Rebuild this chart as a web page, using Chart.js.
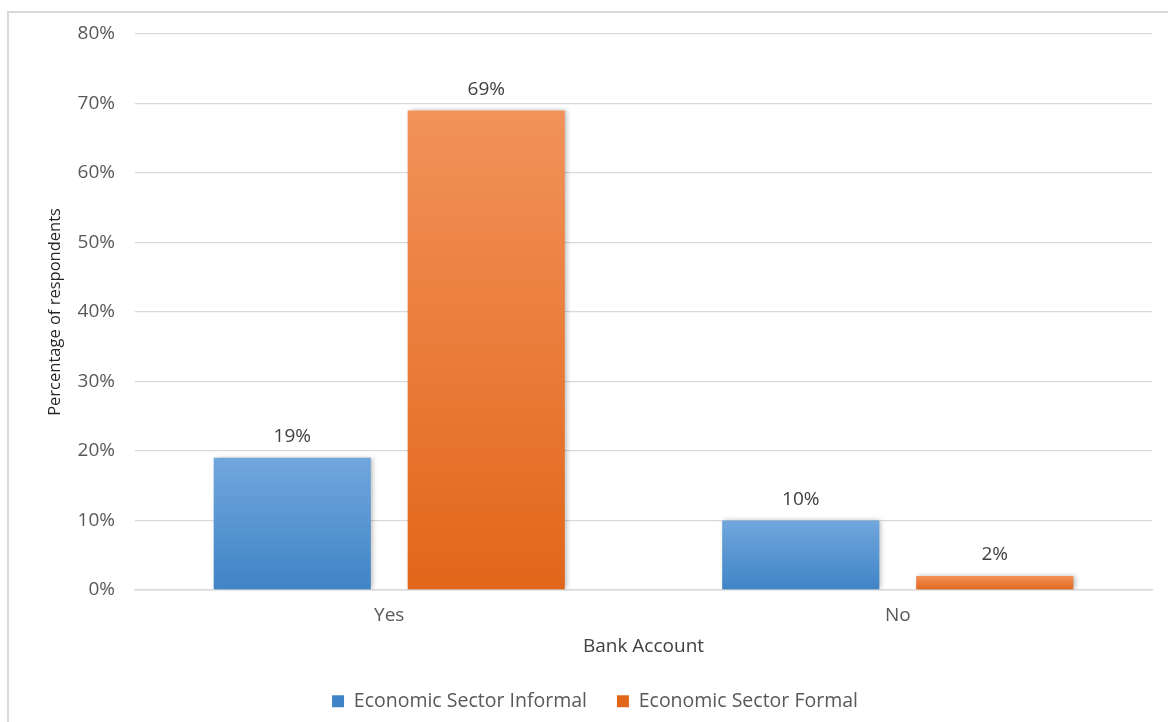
<!DOCTYPE html>
<html lang="en">

<head>
    <meta charset="UTF-8">
    <title>Bank Account by Economic Sector</title>
    <style>
        * {
            margin: 0;
            padding: 0;
            box-sizing: border-box;
        }

        body {
            width: 1168px;
            height: 722px;
            background: #ffffff;
            overflow: hidden;
            position: relative;
        }

        /* frame around the chart, right and bottom edges run off the page */
        .frame {
            position: absolute;
            left: 7px;
            top: 11px;
            width: 1200px;
            height: 760px;
            border: 2px solid #d9d9d9;
        }

        #chart {
            position: absolute;
            left: 0;
            top: 0;
        }
    </style>
</head>

<body>
    <div class="frame"></div>
    <canvas id="chart" width="1168" height="722"></canvas>

    <script src="https://cdn.jsdelivr.net/npm/chart.js"></script>
    <script>
        const categories = ['Yes', 'No'];
        const informal = [19, 10];
        const formal = [69, 2];
        const yTicks = [0, 10, 20, 30, 40, 50, 60, 70, 80];

        const FONT = '"Open Sans", "DejaVu Sans", sans-serif';

        // vertical gradient per bar, lighter at the top
        function barFill(topColor, bottomColor, flat) {
            return function (ctx) {
                const chart = ctx.chart;
                if (ctx.type !== 'data' || !chart.chartArea) return flat;
                const y = chart.scales.y;
                const yTop = y.getPixelForValue(ctx.parsed.y);
                const yBase = y.getPixelForValue(0);
                if (!isFinite(yTop) || yTop === yBase) return flat;
                const g = chart.ctx.createLinearGradient(0, yTop, 0, yBase);
                g.addColorStop(0, topColor);
                g.addColorStop(1, bottomColor);
                return g;
            };
        }

        // soft shadow under the bars
        const barShadow = {
            id: 'barShadow',
            beforeDatasetDraw(chart) {
                const c = chart.ctx;
                c.save();
                c.shadowColor = 'rgba(0,0,0,0.28)';
                c.shadowBlur = 5;
                c.shadowOffsetX = 2;
                c.shadowOffsetY = 0;
            },
            afterDatasetDraw(chart) {
                chart.ctx.restore();
            }
        };

        // value labels above each bar
        const valueLabels = {
            id: 'valueLabels',
            afterDatasetsDraw(chart) {
                const c = chart.ctx;
                c.save();
                c.font = '19px ' + FONT;
                c.fillStyle = '#404040';
                c.textAlign = 'center';
                c.textBaseline = 'middle';
                chart.data.datasets.forEach((ds, i) => {
                    chart.getDatasetMeta(i).data.forEach((bar, j) => {
                        c.fillText(ds.data[j] + '%', bar.x, bar.y - 21);
                    });
                });
                c.restore();
            }
        };

        new Chart(document.getElementById('chart'), {
            type: 'bar',
            data: {
                labels: categories,
                datasets: [
                    {
                        label: 'Economic Sector Informal',
                        data: informal,
                        backgroundColor: barFill('#71a7dd', '#3f84c6', '#5b9bd5')
                    },
                    {
                        label: 'Economic Sector Formal',
                        data: formal,
                        backgroundColor: barFill('#f29259', '#e2661a', '#ed7d31')
                    }
                ]
            },
            options: {
                responsive: false,
                animation: false,
                categoryPercentage: 0.763,
                barPercentage: 0.81,
                layout: {
                    padding: { left: 38, right: 16, top: 34, bottom: 1 }
                },
                scales: {
                    x: {
                        grid: { display: false, drawTicks: false },
                        border: { color: '#d9d9d9', width: 1.5 },
                        ticks: {
                            color: '#595959',
                            font: { family: FONT, size: 19 },
                            padding: 14
                        },
                        title: {
                            display: true,
                            text: 'Bank Account',
                            color: '#404040',
                            font: { family: FONT, size: 19 },
                            padding: { top: -6, bottom: 4 }
                        }
                    },
                    y: {
                        min: 0,
                        max: 80,
                        afterBuildTicks(axis) {
                            axis.ticks = yTicks.map(v => ({ value: v }));
                        },
                        afterFit(axis) {
                            axis.width = 97;
                        },
                        grid: { color: '#d9d9d9', lineWidth: 1.2, drawTicks: false },
                        border: { display: false },
                        ticks: {
                            color: '#595959',
                            font: { family: FONT, size: 19 },
                            padding: 20,
                            callback: v => v + '%'
                        },
                        title: {
                            display: true,
                            text: 'Percentage of respondents',
                            color: '#262626',
                            font: { family: FONT, size: 16.5 },
                            padding: { top: 7, bottom: 0 }
                        }
                    }
                },
                plugins: {
                    legend: {
                        position: 'bottom',
                        labels: {
                            color: '#595959',
                            font: { family: FONT, size: 19.5 },
                            boxWidth: 12,
                            boxHeight: 12,
                            padding: 30
                        }
                    },
                    tooltip: { enabled: false }
                }
            },
            plugins: [barShadow, valueLabels]
        });
    </script>
</body>

</html>
